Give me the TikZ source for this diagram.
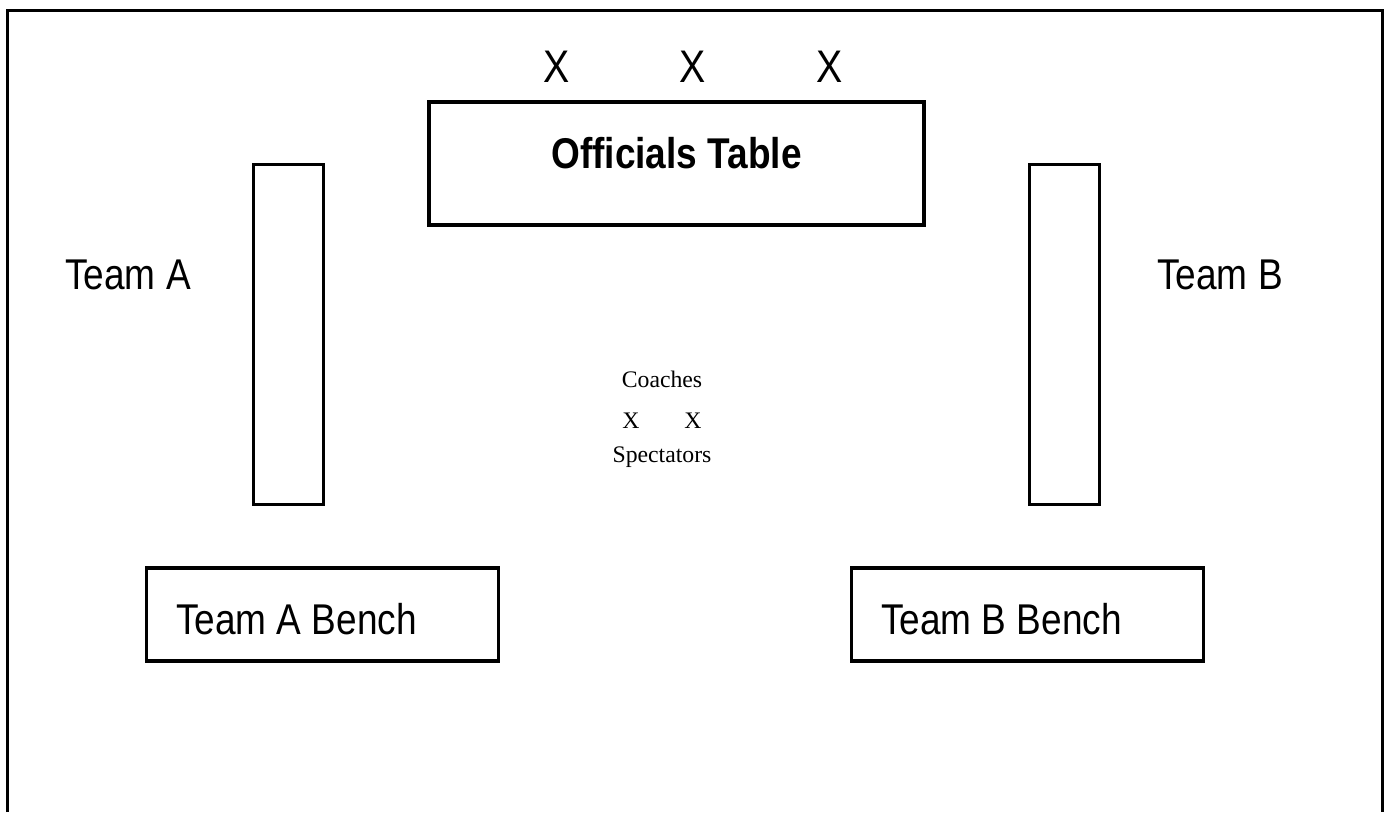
\documentclass[tikz,border=0pt]{standalone}
\usepackage{fontspec}
\usepackage{tikz}
\newfontfamily\narrowsans[FakeStretch=0.86]{Liberation Sans}
\newfontfamily\notefont{Liberation Serif}

\begin{document}
\begin{tikzpicture}[x=0.02cm, y=-0.02cm,
    table box/.style={draw, line width=2pt, minimum width=9.9cm, minimum height=2.47cm, inner sep=0pt},
    side box/.style={draw, line width=2pt, minimum width=1.4cm, minimum height=6.8cm, inner sep=0pt},
    bench box/.style={draw, line width=2pt, minimum width=7.04cm, minimum height=1.86cm, inner sep=0pt},
    big label/.style={font=\narrowsans\fontsize{24.5}{26}\selectfont, inner sep=0pt, anchor=base},
    seat/.style={font=\narrowsans\fontsize{26}{28}\selectfont, inner sep=0pt, anchor=base},
    small label/.style={font=\notefont\fontsize{13.5}{15}\selectfont, inner sep=0pt, anchor=base}]
    \useasboundingbox (0,0) rectangle (1387,812);

    % outer frame, open at the bottom
    \draw[line width=1.7pt] (7.5,812) -- (7.5,10.5) -- (1382.5,10.5) -- (1382.5,812);

    % officials table and its seats
    \node[table box] (officials) at (676.5,163.5) {};
    \node[big label, font=\narrowsans\bfseries\fontsize{24.5}{26}\selectfont] (officialstxt) at (676.5,168) {Officials Table};
    \node[seat] (seat1) at (557,82) {X};
    \node[seat] (seat2) at (693,82) {X};
    \node[seat] (seat3) at (830,82) {X};

    % team areas
    \node[side box] (sideA) at (288.5,334.5) {};
    \node[side box] (sideB) at (1064.5,334.5) {};
    \node[big label] (teamA) at (128,289) {Team A};
    \node[big label] (teamB) at (1220,289) {Team B};

    % benches
    \node[bench box] (benchA) at (322.5,614.5) {};
    \node[bench box] (benchB) at (1027.5,614.5) {};
    \node[big label] (benchAtxt) at (296.5,634) {Team A Bench};
    \node[big label] (benchBtxt) at (1001.5,634) {Team B Bench};

    % coaches and spectators
    \node[small label] (coaches) at (662,387) {Coaches};
    \node[small label] (coachX1) at (631,428) {X};
    \node[small label] (coachX2) at (693,428) {X};
    \node[small label] (spectators) at (662,462) {Spectators};
\end{tikzpicture}
\end{document}
